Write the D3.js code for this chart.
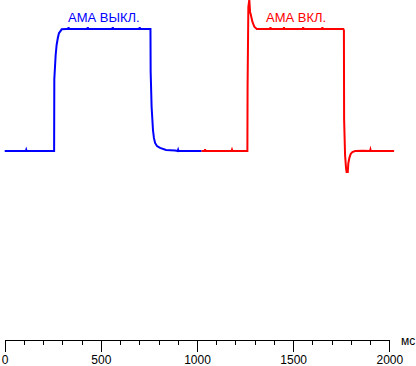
<!DOCTYPE html>
<html><head><meta charset="utf-8">
<script src="https://cdn.jsdelivr.net/npm/d3@7"></script>
<style>body{margin:0;background:#fff}svg{display:block}text{font-family:"Liberation Sans",Arial,sans-serif}</style>
</head><body>
<svg id="c" width="416" height="366"></svg>
<script>
// Data (time in ms, relative brightness: 0 = black level, 100 = white level)
const blueT = [0, 110, 112, 114, 257, 258, 265, 270, 276, 282, 291, 296, 320, 330, 332, 334, 400, 430, 432, 434, 500, 560, 562, 564, 650, 700, 702, 704, 758, 759, 764, 768, 771, 776, 782, 792, 808, 839, 886, 900, 902, 904, 1024];
const blueV = [0, 0, 1, 0, 0, 58.8, 78.7, 86.9, 92.4, 96.5, 98.4, 99.8, 100, 100, 101.5, 100, 100, 100, 101.5, 100, 100, 100, 101.5, 100, 100, 100, 101.5, 100, 100, 65, 36, 25.4, 17.2, 10.7, 6.6, 4.1, 2.5, 0.8, 0.4, 0, 1, 0, 0];
const redT = [1024, 1040, 1042, 1044, 1120, 1180, 1182, 1184, 1262, 1263, 1267, 1272, 1276, 1279, 1288, 1298, 1311, 1330, 1380, 1382, 1384, 1450, 1452, 1454, 1550, 1552, 1554, 1650, 1652, 1654, 1761, 1764, 1765, 1770, 1775, 1778, 1784, 1787, 1792, 1799, 1808, 1822, 1863, 1900, 1902, 1904, 1950, 2025];
const redV = [0, 0, 1.5, 0, 0, 0, 1, 0, 0, 51.6, 118, 124, 114, 112.3, 106, 101.9, 100, 100, 100, 101.5, 100, 100, 101.5, 100, 100, 101.5, 100, 100, 101.5, 100, 100, 98.8, 26, -3.3, -14, -17.2, -17.2, -10, -5.9, -2.5, -0.8, 0, 0.2, 0, 1.2, 0, 0, 0];
const majorTicks = [0, 500, 1000, 1500, 2000];
const minorTicks = d3.range(0, 2001, 100);
const labels = ["АМА ВЫКЛ.", "АМА ВКЛ."];
const unitLabel = "мс";

const svg = d3.select("#c");
const x = d3.scaleLinear().domain([0, 2000]).range([4.7, 389.3]);
const y = d3.scaleLinear().domain([0, 100]).range([151, 29]);

const line = d3.line().x(d => x(d[0])).y(d => y(d[1]));
const blue = blueT.map((t, i) => [t, blueV[i]]);
const red = redT.map((t, i) => [t, redV[i]]);

svg.append("path").datum(blue).attr("d", line)
  .attr("fill", "none").attr("stroke", "#0000ff").attr("stroke-width", 2);
svg.append("path").datum(red).attr("d", line)
  .attr("fill", "none").attr("stroke", "#ff0000").attr("stroke-width", 2);

svg.append("text").attr("x", 68).attr("y", 21.7).attr("font-size", 13)
  .attr("fill", "#0000ff").text(labels[0]);
svg.append("text").attr("x", 266).attr("y", 21.7).attr("font-size", 13)
  .attr("fill", "#ff0000").text(labels[1]);

// axis
const gMinor = svg.append("g").attr("transform", "translate(0,340)")
  .call(d3.axisBottom(x).tickValues(minorTicks).tickSize(5).tickSizeOuter(0).tickFormat(""));
const gMajor = svg.append("g").attr("transform", "translate(0,340)")
  .call(d3.axisBottom(x).tickValues(majorTicks).tickSize(12).tickSizeOuter(0).tickPadding(3).tickFormat(d3.format("d")));
svg.selectAll(".domain, .tick line").attr("stroke", "#000").attr("stroke-width", 1)
  .attr("shape-rendering", "crispEdges");
gMajor.selectAll("text").attr("font-size", 12).attr("fill", "#000")
  .style("font-family", '"Liberation Sans",Arial,sans-serif');

svg.append("text").attr("x", 401).attr("y", 345).attr("font-size", 12)
  .attr("fill", "#000").text(unitLabel);
</script>
</body></html>
